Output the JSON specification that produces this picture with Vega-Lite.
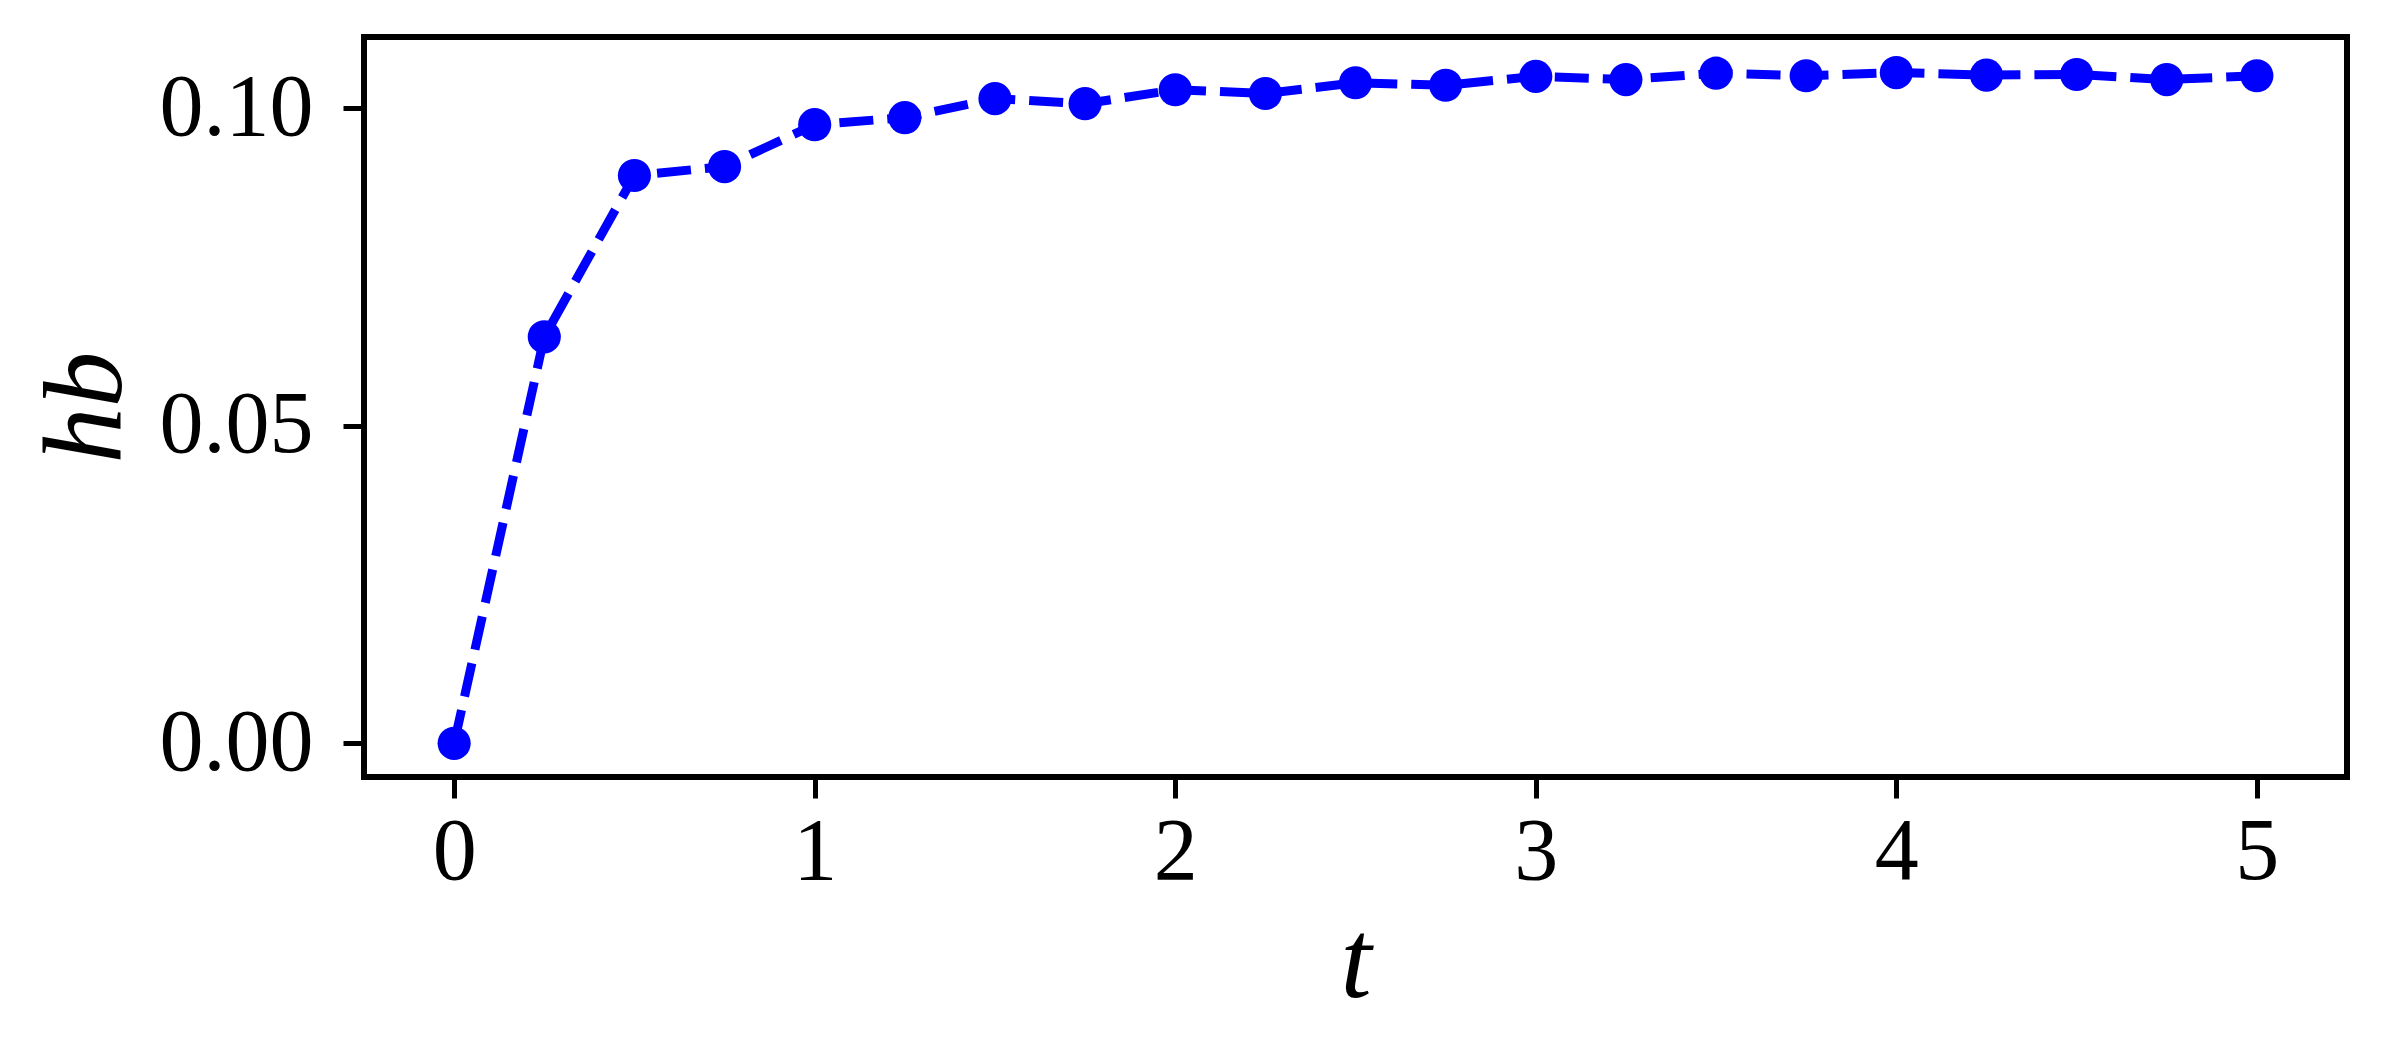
{
  "$schema": "https://vega.github.io/schema/vega-lite/v6.json",
  "width": 1983,
  "height": 740,
  "autosize": {"type": "none"},
  "padding": {"left": 364, "top": 37, "right": 41, "bottom": 285},
  "background": "white",
  "config": {
    "view": {"stroke": "black", "strokeWidth": 6},
    "axis": {
      "grid": false,
      "domain": false,
      "tickColor": "black",
      "tickWidth": 5,
      "tickSize": 21,
      "labelFont": "Liberation Serif",
      "labelFontSize": 88,
      "labelColor": "black",
      "titleFont": "Liberation Serif",
      "titleFontSize": 112,
      "titleFontStyle": "italic",
      "titleFontWeight": "normal",
      "titleColor": "black"
    }
  },
  "data": {
    "values": [
      {"t": 0.0, "h": 0.0},
      {"t": 0.25, "h": 0.0640},
      {"t": 0.5, "h": 0.0894},
      {"t": 0.75, "h": 0.0908},
      {"t": 1.0, "h": 0.0974},
      {"t": 1.25, "h": 0.0985},
      {"t": 1.5, "h": 0.1015},
      {"t": 1.75, "h": 0.1007},
      {"t": 2.0, "h": 0.1029},
      {"t": 2.25, "h": 0.1023},
      {"t": 2.5, "h": 0.1040},
      {"t": 2.75, "h": 0.1036},
      {"t": 3.0, "h": 0.1050},
      {"t": 3.25, "h": 0.1045},
      {"t": 3.5, "h": 0.1055},
      {"t": 3.75, "h": 0.1051},
      {"t": 4.0, "h": 0.1056},
      {"t": 4.25, "h": 0.1052},
      {"t": 4.5, "h": 0.1053},
      {"t": 4.75, "h": 0.1045},
      {"t": 5.0, "h": 0.1051}
    ]
  },
  "encoding": {
    "x": {
      "field": "t",
      "type": "quantitative",
      "scale": {"domain": [-0.25, 5.25], "nice": false, "zero": false},
      "axis": {"values": [0, 1, 2, 3, 4, 5], "format": "d", "title": "t", "labelPadding": 10, "titlePadding": 12}
    },
    "y": {
      "field": "h",
      "type": "quantitative",
      "scale": {"domain": [-0.0053, 0.1112], "nice": false, "zero": false},
      "axis": {"values": [0, 0.05, 0.1], "format": ".2f", "title": "hb", "labelPadding": 30, "titlePadding": 20}
    }
  },
  "layer": [
    {
      "mark": {"type": "line", "color": "#0000ff", "strokeWidth": 9, "strokeDash": [34, 14]}
    },
    {
      "mark": {"type": "point", "filled": true, "shape": "circle", "color": "#0000ff", "opacity": 1, "size": 1100}
    }
  ]
}
